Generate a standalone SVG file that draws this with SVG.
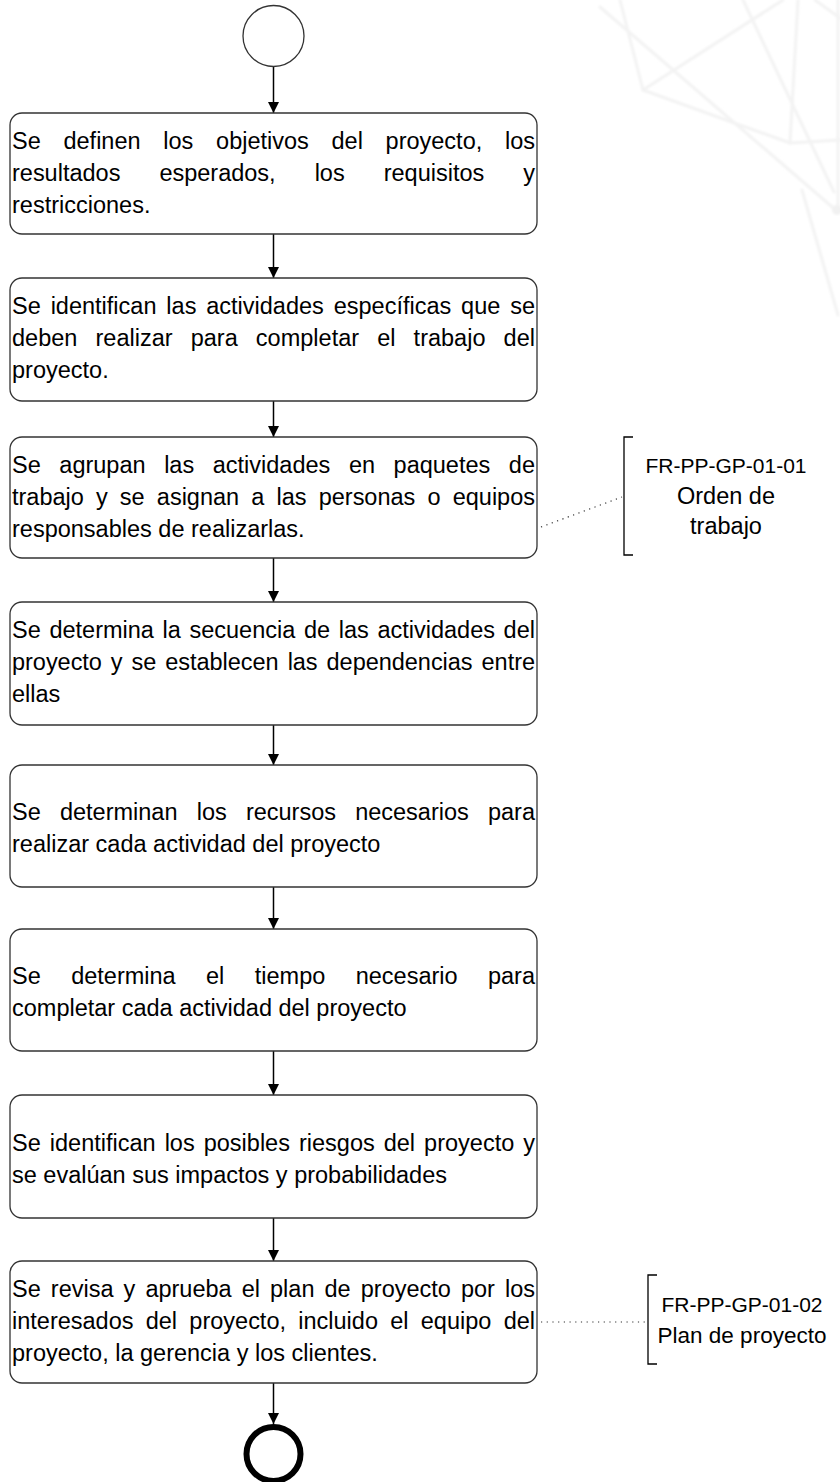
<svg xmlns="http://www.w3.org/2000/svg" width="840" height="1482" viewBox="0 0 840 1482">
  <defs>
    <style>
      .box { fill: #ffffff; stroke: #333333; stroke-width: 1.3; }
      .flow { stroke: #000000; stroke-width: 1.5; fill: none; marker-end: url(#arrow); }
      .assoc { stroke: #333333; stroke-width: 1.2; fill: none; stroke-dasharray: 1.2 4.5; }
      .bracket { stroke: #000000; stroke-width: 1.3; fill: none; }
      .txt { font-family: "Liberation Sans", Arial, sans-serif; font-size: 23.5px; fill: #000000; }
      .code { font-size: 21px; }
      .mid { text-anchor: middle; }
      .wm { stroke: #f3f3f3; stroke-width: 3; fill: none; stroke-linecap: round; }
    </style>
    <marker id="arrow" viewBox="0 0 10 10" refX="10" refY="5" markerWidth="11" markerHeight="11" markerUnits="userSpaceOnUse" orient="auto">
      <path d="M0,0 L10,5 L0,10 z" fill="#000000"/>
    </marker>
    <filter id="soft" x="-10%" y="-10%" width="120%" height="120%">
      <feGaussianBlur stdDeviation="1.2"/>
    </filter>
  </defs>

  <rect width="840" height="1482" fill="#ffffff"/>

  <!-- faint background line art, top right -->
  <g id="background-art" filter="url(#soft)">
    <line class="wm" x1="600" y1="7" x2="838" y2="212"/>
    <line class="wm" x1="743" y1="0" x2="834" y2="192"/>
    <line class="wm" x1="643" y1="90" x2="783" y2="0" stroke-width="2"/>
    <line class="wm" x1="620" y1="0" x2="643" y2="90" stroke-width="1.5"/>
    <line class="wm" x1="643" y1="90" x2="790" y2="143" stroke-width="1.5"/>
    <line class="wm" x1="790" y1="143" x2="840" y2="140" stroke-width="1.5"/>
    <line class="wm" x1="798" y1="0" x2="790" y2="143" stroke-width="1.5"/>
    <line class="wm" x1="838" y1="0" x2="838" y2="212" stroke-width="2"/>
    <line class="wm" x1="802" y1="190" x2="838" y2="315" stroke-width="1.5"/>
    <line class="wm" x1="815" y1="0" x2="840" y2="18" stroke-width="2"/>
    <circle cx="837" cy="210" r="5" fill="#f1f1f1"/>
  </g>

  <!-- flow connectors and document associations -->
  <g id="connectors">
    <line class="flow" x1="273.5" y1="67" x2="273.5" y2="113"/>
    <line class="flow" x1="273.5" y1="234" x2="273.5" y2="278"/>
    <line class="flow" x1="273.5" y1="401" x2="273.5" y2="437"/>
    <line class="flow" x1="273.5" y1="558" x2="273.5" y2="602"/>
    <line class="flow" x1="273.5" y1="725" x2="273.5" y2="765"/>
    <line class="flow" x1="273.5" y1="887" x2="273.5" y2="929"/>
    <line class="flow" x1="273.5" y1="1051" x2="273.5" y2="1095"/>
    <line class="flow" x1="273.5" y1="1218" x2="273.5" y2="1261"/>
    <line class="flow" x1="273.5" y1="1383" x2="273.5" y2="1424"/>
    <line class="assoc" x1="541" y1="527" x2="622" y2="497"/>
    <line class="assoc" x1="541" y1="1322" x2="646" y2="1322"/>
  </g>

  <g id="start">
    <circle cx="273.5" cy="36" r="30.5" fill="#ffffff" stroke="#333333" stroke-width="1.3"/>
  </g>

  <g id="step1">
    <rect class="box" x="10" y="113" width="527" height="121" rx="12"/>
    <text class="txt" x="12" y="149" word-spacing="16.2" textLength="523" lengthAdjust="spacing">Se definen los objetivos del proyecto, los</text>
    <text class="txt" x="12" y="181" word-spacing="32.5" textLength="523" lengthAdjust="spacing">resultados esperados, los requisitos y</text>
    <text class="txt" x="12" y="213">restricciones.</text>
  </g>

  <g id="step2">
    <rect class="box" x="10" y="278" width="527" height="123" rx="12"/>
    <text class="txt" x="12" y="314" word-spacing="3.35" textLength="523" lengthAdjust="spacing">Se identifican las actividades específicas que se</text>
    <text class="txt" x="12" y="346" word-spacing="11.6" textLength="523" lengthAdjust="spacing">deben realizar para completar el trabajo del</text>
    <text class="txt" x="12" y="378">proyecto.</text>
  </g>

  <g id="step3">
    <rect class="box" x="10" y="437" width="527" height="121" rx="12"/>
    <text class="txt" x="12" y="473" word-spacing="12.05" textLength="523" lengthAdjust="spacing">Se agrupan las actividades en paquetes de</text>
    <text class="txt" x="12" y="505" word-spacing="5.6" textLength="523" lengthAdjust="spacing">trabajo y se asignan a las personas o equipos</text>
    <text class="txt" x="12" y="537">responsables de realizarlas.</text>
  </g>

  <g id="step4">
    <rect class="box" x="10" y="602" width="527" height="123" rx="12"/>
    <text class="txt" x="12" y="638" word-spacing="2.1" textLength="523" lengthAdjust="spacing">Se determina la secuencia de las actividades del</text>
    <text class="txt" x="12" y="670" word-spacing="2.47" textLength="523" lengthAdjust="spacing">proyecto y se establecen las dependencias entre</text>
    <text class="txt" x="12" y="702">ellas</text>
  </g>

  <g id="step5">
    <rect class="box" x="10" y="765" width="527" height="122" rx="12"/>
    <text class="txt" x="12" y="820" word-spacing="12.67" textLength="523" lengthAdjust="spacing">Se determinan los recursos necesarios para</text>
    <text class="txt" x="12" y="852">realizar cada actividad del proyecto</text>
  </g>

  <g id="step6">
    <rect class="box" x="10" y="929" width="527" height="122" rx="12"/>
    <text class="txt" x="12" y="984" word-spacing="23.9" textLength="523" lengthAdjust="spacing">Se determina el tiempo necesario para</text>
    <text class="txt" x="12" y="1016">completar cada actividad del proyecto</text>
  </g>

  <g id="step7">
    <rect class="box" x="10" y="1095" width="527" height="123" rx="12"/>
    <text class="txt" x="12" y="1151" word-spacing="2.5" textLength="523" lengthAdjust="spacing">Se identifican los posibles riesgos del proyecto y</text>
    <text class="txt" x="12" y="1183">se evalúan sus impactos y probabilidades</text>
  </g>

  <g id="step8">
    <rect class="box" x="10" y="1261" width="527" height="122" rx="12"/>
    <text class="txt" x="12" y="1297" word-spacing="3.55" textLength="523" lengthAdjust="spacing">Se revisa y aprueba el plan de proyecto por los</text>
    <text class="txt" x="12" y="1329" word-spacing="5.75" textLength="523" lengthAdjust="spacing">interesados del proyecto, incluido el equipo del</text>
    <text class="txt" x="12" y="1361">proyecto, la gerencia y los clientes.</text>
  </g>

  <g id="end">
    <circle cx="273.5" cy="1454" r="27" fill="#ffffff" stroke="#000000" stroke-width="6"/>
  </g>

  <g id="doc-orden-trabajo">
    <path class="bracket" d="M633,437 H624 V555 H633"/>
    <text class="txt code mid" x="726" y="473">FR-PP-GP-01-01</text>
    <text class="txt mid" x="726" y="504">Orden de</text>
    <text class="txt mid" x="726" y="534">trabajo</text>
  </g>

  <g id="doc-plan-proyecto">
    <path class="bracket" d="M657,1275 H648 V1364 H657"/>
    <text class="txt code mid" x="742" y="1312">FR-PP-GP-01-02</text>
    <text class="txt mid" x="742" y="1343" style="font-size:22.5px">Plan de proyecto</text>
  </g>
</svg>
